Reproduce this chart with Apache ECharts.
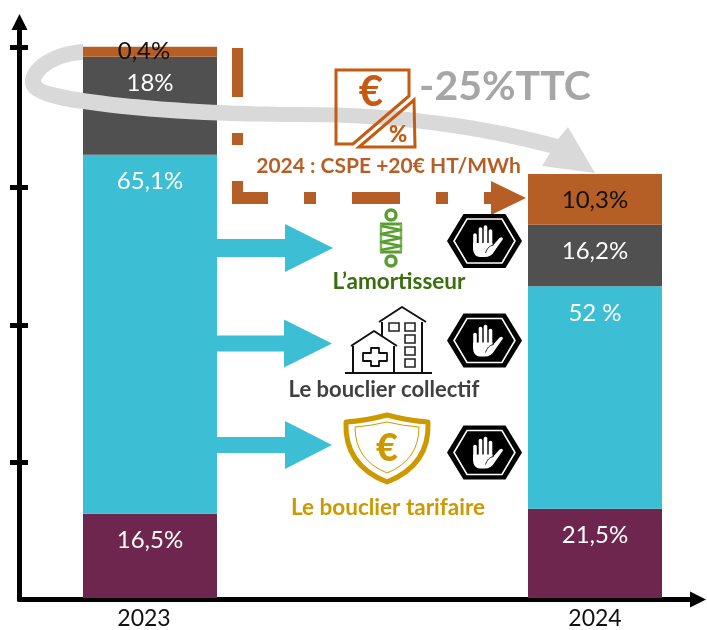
<!DOCTYPE html>
<html><head><meta charset="utf-8">
<style>html,body{margin:0;padding:0;background:#fff}#c{width:707px;height:630px}</style>
<script src="https://cdn.jsdelivr.net/npm/echarts@6/dist/echarts.min.js"></script>
</head><body><div id="c"></div>
<script>
const categories = ['2023', '2024'];
const seriesNames = ['Taxes TVA', 'Acheminement', 'Fourniture', 'CSPE'];
const partPurple = [15.3, 16.2];
const partCyan = [65.2, 40.4];
const partDark = [17.8, 11.2];
const partBrown = [1.8, 9.2];
const labelsPurple = ['16,5%', '21,5%'];
const labelsCyan = ['65,1%', '52 %'];
const labelsDark = ['18%', '16,2%'];
const labelsBrown = ['0,4%', '10,3%'];
const yMax = 104.6;
const yTicks = [24.9, 49.7, 74.7, 100];

const FONT = 'Lato, "Open Sans", sans-serif';
const BROWN = '#B55E25', DARK = '#505050', CYAN = '#3CBFD4', PURPLE = '#6F264E', GOLD = '#CC9900';

function bar(name, data, labels, color, textColor) {
  return {
    name, type: 'bar', stack: 'total', xAxisIndex: 0, yAxisIndex: 0, barWidth: 134, clip: false, z: 3,
    itemStyle: { color },
    data: data.map((v, i) => ({
      value: v,
      label: (labels[i] === '0,4%') ? { offset: [-6, -22] } : {}
    })),
    label: {
      show: true, position: 'insideTop', distance: 14.5, color: textColor,
      fontFamily: FONT, fontSize: 24, lineHeight: 24,
      formatter: p => labels[p.dataIndex]
    }
  };
}

function txt(text, x, y, size, color, weight) {
  return { type: 'text', z: 20, x, y, style: { text, fontFamily: FONT, fontSize: size, fontWeight: weight || 'bold',
    fill: color, align: 'center', verticalAlign: 'middle' } };
}
function poly(points, fill, stroke, lw, z) {
  return { type: 'polygon', z: z || 15, shape: { points }, style: { fill: fill || 'none', stroke: stroke || 'none', lineWidth: lw || 0 } };
}
function rect(x, y, w, h, fill, stroke, lw) {
  return { type: 'rect', z: 15, shape: { x, y, width: w, height: h }, style: { fill: fill || 'none', stroke: stroke || 'none', lineWidth: lw || 0 } };
}
function line(x1, y1, x2, y2, color, w, cap) {
  return { type: 'line', z: 16, shape: { x1, y1, x2, y2 }, style: { stroke: color, lineWidth: w, lineCap: cap || 'butt' } };
}
let pathCount = 0;
function path(d, fill, stroke, lw) {
  const name = 'svgShape' + (pathCount++);
  echarts.graphic.registerShape(name, echarts.graphic.extendPath(d, {}));
  return { type: name, z: 16, style: { fill: fill || 'none', stroke: stroke || 'none', lineWidth: lw || 0, lineJoin: 'round' } };
}
function arrowRight(x0, xh, xt, yc, sh, hh, color) {
  return poly([[x0, yc - sh], [xh, yc - sh], [xh, yc - hh], [xt, yc], [xh, yc + hh], [xh, yc + sh], [x0, yc + sh]], color);
}
function stopSign(cx, cy) {
  const f = [[-9.5, -6], [-4, -12], [1, -14], [6, -10]];
  const kids = [
    poly([[-37.5, 0], [-21, -27], [21, -27], [37.5, 0], [21, 27], [-21, 27]], '#000'),
    poly([[-30.5, 0], [-17.5, -22], [17.5, -22], [30.5, 0], [17.5, 22], [-17.5, 22]], '#000', '#fff', 1.6)
  ];
  f.forEach(a => kids.push(line(a[0], a[1], a[0], 5, '#fff', 3.6, 'round')));
  kids.push(path('M-11.5 2 L8 2 L8 5 L15 -3 Q18 -5 18.5 -2 L10 10 Q7 16 0 16 L-5 16 Q-11 15 -11.5 8 Z', '#fff'));
  kids.push(path('M1 12 Q3 5 9 4', 'none', '#000', 0.8));
  kids.forEach(k => k.z = 18);
  return { type: 'group', x: cx, y: cy, children: kids };
}

const grey = path('M83 44 C52 46 25 62 25 83 C25 99 58 106 83 109 C150 119 230 122 300 122 C400 122 480 135 550 153 L542 166 L595 173 L568 127 L558 139 C490 120 400 107 300 107 C210 107 100 98 62 89 C48 86 41 84 41 81 C45 70 62 61 83 60 Z', '#D9D9D9');
grey.z = 10;

const graphics = [
  grey,
  // brown dashed line
  rect(232, 48, 11, 49, BROWN), rect(232, 133, 11, 12, BROWN),
  poly([[232, 181], [243, 181], [243, 192], [268, 192], [268, 204], [232, 204]], BROWN),
  rect(304, 192, 12, 12, BROWN), rect(352, 192, 48, 12, BROWN), rect(436, 192, 12, 12, BROWN),
  arrowRight(484, 491, 526, 198, 6, 17, BROWN),
  // cyan arrows
  arrowRight(217, 285, 333, 248, 9, 24, CYAN),
  arrowRight(217, 284, 332, 343.5, 8, 24, CYAN),
  arrowRight(217, 285, 332, 445, 8, 24, CYAN),
  // euro/percent icon
  poly([[336, 70], [409, 70], [409, 96], [353, 144], [336, 144]], 'none', '#C55A11', 3),
  poly([[414, 100], [415, 147], [359, 147]], 'none', '#C55A11', 3),
  txt('€', 371, 92, 42, '#C55A11'), txt('%', 398, 135, 22, '#C55A11', '900'),
  txt('-25%TTC', 505, 87, 41, '#A6A6A6'),
  txt('2024 : CSPE +20€ HT/MWh', 388.5, 166, 21, BROWN),
  // spring
  { type: 'circle', z: 16, shape: { cx: 391, cy: 215, r: 5 }, style: { fill: 'none', stroke: '#5A9E32', lineWidth: 3.5 } },
  { type: 'circle', z: 16, shape: { cx: 391, cy: 261, r: 5 }, style: { fill: 'none', stroke: '#5A9E32', lineWidth: 3.5 } },
  path('M380 224 L402 224 M380 252 L402 252', 'none', '#5A9E32', 3),
  path('M381 224 L381 252 M401 224 L401 252', 'none', '#7DB55A', 2.5),
  path('M381 226 L401 230 L381 234 L401 238 L381 242 L401 246 L381 250', 'none', '#5A9E32', 2.5),
  txt('L’amortisseur', 399, 282, 22.5, '#3B6E0F'),
  // building
  line(345, 373, 432, 373, '#111', 2.2),
  path('M351 346 L374 331 L397 346 M353 346 L353 373 M394 346 L394 373', 'none', '#111', 2),
  path('M379 322 L402 307 L426 322 M382 322 L382 337 M422 322 L422 373', 'none', '#111', 2),
  rect(389, 323, 10, 8, 'none', '#222', 1.6), rect(405, 323, 10, 8, 'none', '#222', 1.6),
  rect(405, 335, 10, 8, 'none', '#222', 1.6), rect(405, 347, 10, 8, 'none', '#222', 1.6), rect(405, 359, 10, 8, 'none', '#222', 1.6),
  path('M371 348 L379 348 L379 353 L387 353 L387 361 L379 361 L379 366 L371 366 L371 361 L363 361 L363 353 L371 353 Z', 'none', '#111', 1.8),
  txt('Le bouclier collectif', 384, 390, 22, '#404040'),
  // shield
  path('M387 415 Q365 421 346 422 Q344 465 387 482 Q430 465 428 422 Q409 421 387 415 Z', 'none', GOLD, 5),
  path('M387 422 Q370 426 355 427 Q355 460 387 473 Q419 460 419 427 Q404 426 387 422 Z', 'none', GOLD, 1),
  txt('€', 387, 449, 38, GOLD, '900'),
  txt('Le bouclier tarifaire', 388, 508, 22.5, GOLD),
  // stop signs
  stopSign(484.5, 241), stopSign(484.5, 340.5), stopSign(484.5, 452.5)
];

const chart = echarts.init(document.getElementById('c'), null, { renderer: 'canvas' });
chart.setOption({
  animation: false,
  backgroundColor: '#fff',
  grid: [
    { left: 150, width: 445, top: 22, height: 577.5 },
    { left: 19.5, width: 678.5, top: 22, height: 577.5 }
  ],
  xAxis: [
    { type: 'category', gridIndex: 0, boundaryGap: false,
      data: categories.map((c, i) => ({ value: c, textStyle: { padding: i === 0 ? [0, 12, 0, 0] : 0 } })),
      axisLine: { show: false }, axisTick: { show: false },
      axisLabel: { color: '#111', fontFamily: FONT, fontSize: 23, margin: 9, hideOverlap: false, showMinLabel: true, showMaxLabel: true } },
    { type: 'value', gridIndex: 1, min: 0, max: 1, splitLine: { show: false }, axisTick: { show: false }, axisLabel: { show: false },
      axisLine: { show: true, lineStyle: { color: '#000', width: 5 }, symbol: ['none', 'triangle'], symbolSize: [16, 16] } }
  ],
  yAxis: [
    { type: 'value', gridIndex: 0, min: 0, max: yMax, show: false },
    { type: 'value', gridIndex: 1, min: 0, max: yMax, interval: 25, splitLine: { show: false }, axisLabel: { show: false }, axisTick: { show: false },
      axisLine: { show: true, lineStyle: { color: '#000', width: 5 }, symbol: ['none', 'triangle'], symbolSize: [16, 16] } },
    { type: 'value', gridIndex: 1, min: 0, max: yMax, interval: 25, position: 'left', offset: 9.5, splitLine: { show: false }, axisLabel: { show: false },
      axisLine: { show: false },
      axisTick: { show: true, inside: true, length: 18, customValues: yTicks, lineStyle: { color: '#000', width: 5 } } }
  ],
  series: [
    bar(seriesNames[0], partPurple, labelsPurple, PURPLE, '#fff'),
    bar(seriesNames[1], partCyan, labelsCyan, CYAN, '#fff'),
    bar(seriesNames[2], partDark, labelsDark, DARK, '#fff'),
    bar(seriesNames[3], partBrown, labelsBrown, BROWN, '#111')
  ],
  graphic: { elements: graphics }
});
</script></body></html>
